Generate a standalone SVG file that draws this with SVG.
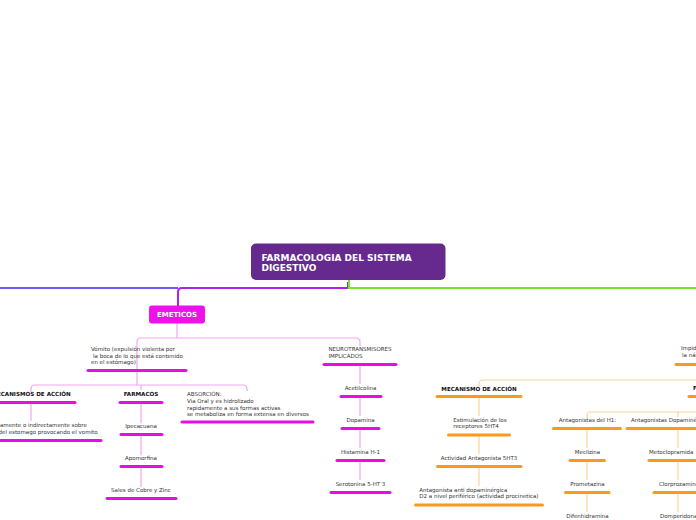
<svg xmlns="http://www.w3.org/2000/svg" width="696" height="520" viewBox="0 0 696 520">
<style>
text{font-family:"DejaVu Sans","Liberation Sans",sans-serif;font-size:5.5px;fill:#333}
.b{font-weight:bold;font-size:5.6px;fill:#111}
.m{text-anchor:middle}
.ul{fill:none;stroke-width:3;stroke-linecap:round}
.um{stroke:#ea0bea}
.uo{stroke:#fb9a18}
.cm{fill:none;stroke:#f4a4f4;stroke-width:1.2}
.co{fill:none;stroke:#fdd49a;stroke-width:1.2}
</style>
<rect width="696" height="520" fill="#ffffff"/>
<g id="connectors">
<path d="M178,288 H0" fill="none" stroke="#6a58f2" stroke-width="2"/>
<path d="M348,282 V288 H182 Q178,288 178,292 V306" fill="none" stroke="#ae22ee" stroke-width="2"/>
<path d="M349,280 V288 H696" fill="none" stroke="#74e826" stroke-width="2"/>
<path class="cm" d="M177,323 V338"/>
<path class="cm" d="M137,370 V342 Q137,338 141,338 H356 Q360,338 360,342 V346"/>
<path class="cm" d="M137,371 V385"/>
<path class="cm" d="M31,392 V389 Q31,385 35,385 H243 Q247,385 247,389 V391"/>
<path class="cm" d="M141,385 V390"/>
<path class="cm" d="M31,402 V421"/>
<path class="cm" d="M141,402 V423 M141,434 V455 M141,466 V487"/>
<path class="cm" d="M360,364 V384 M360,396 V416 M360,428 V448 M360,460 V480"/>
<path class="co" d="M696,380 H483 Q479,380 479,384 V386"/>
<path class="co" d="M479,396 V416 M479,434 V454 M479,466 V486"/>
<path class="co" d="M587,418 V416 Q587,412 591,412 H696 M678,412 V417"/>
<path class="co" d="M587,428 V448 M587,460 V480 M587,492 V512"/>
<path class="co" d="M678,428 V448 M678,460 V480 M678,492 V512"/>
</g>
<g id="root">
<rect x="251" y="243.5" width="194.5" height="36.5" rx="5" fill="#662a8e"/>
<text x="261.5" y="260.7" style="font-weight:bold;font-size:9px;fill:#fff">FARMACOLOGIA DEL SISTEMA</text>
<text x="261.5" y="271" style="font-weight:bold;font-size:9px;fill:#fff">DIGESTIVO</text>
</g>
<g id="emeticos">
<rect x="149" y="305.5" width="56" height="18" rx="3" fill="#ee11ee"/>
<text x="177" y="316.8" class="m" style="font-weight:bold;font-size:7px;fill:#fff">EMETICOS</text>
</g>
<g id="vomito">
<text x="91" y="351">Vómito (expulsión violenta por</text>
<text x="93" y="357.5">la boca de lo que está contenido</text>
<text x="91" y="364">en el estómago)</text>
<path class="ul um" d="M88,370.5 H186"/>
</g>
<g id="mecanismos-emeticos">
<text x="31" y="396" class="b m">MECANISMOS DE ACCIÓN</text>
<path class="ul um" d="M0,402.5 H75"/>
</g>
<g id="mecanismo-texto">
<text x="0" y="427">amente o indirectamente sobre</text>
<text x="-1.5" y="434">del estomago provocando el vomito</text>
<path class="ul um" d="M0,440.5 H101"/>
</g>
<g id="farmacos-emeticos">
<text x="141" y="396" class="b m">FARMACOS</text>
<path class="ul um" d="M120,402.5 H162"/>
</g>
<g id="ipecacuana">
<text x="141" y="428.3" class="m">Ipecacuana</text>
<path class="ul um" d="M121,434.5 H162"/>
</g>
<g id="apomorfina">
<text x="141" y="460.3" class="m">Apomorfina</text>
<path class="ul um" d="M121,466.5 H162"/>
</g>
<g id="sales">
<text x="141" y="492.3" class="m">Sales de Cobre y Zinc</text>
<path class="ul um" d="M107,498.5 H176"/>
</g>
<g id="absorcion">
<text x="187" y="396">ABSORCIÓN:</text>
<text x="187" y="403">Via Oral y es hidrolizado</text>
<text x="187" y="409.5">rapidamente a sus formas activas</text>
<text x="187" y="416">se metaboliza en forma extensa en diversos</text>
<path class="ul um" d="M182,422 H313"/>
</g>
<g id="neurotransmisores">
<text x="328.5" y="351">NEUROTRANSMISORES</text>
<text x="328.5" y="358">IMPLICADOS</text>
<path class="ul um" d="M324,364.5 H396"/>
</g>
<g id="acetilcolina">
<text x="360.5" y="390.3" class="m">Acetilcolina</text>
<path class="ul um" d="M341,396.5 H381"/>
</g>
<g id="dopamina">
<text x="360.5" y="422" class="m">Dopamina</text>
<path class="ul um" d="M342,428.5 H379"/>
</g>
<g id="histamina">
<text x="360.5" y="454" class="m">Histamina H-1</text>
<path class="ul um" d="M337,460.5 H384"/>
</g>
<g id="serotonina">
<text x="360.5" y="486" class="m">Serotonina 5-HT 3</text>
<path class="ul um" d="M331,492.5 H390"/>
</g>
<g id="impide">
<text x="681" y="350">Impide</text>
<text x="682" y="357">la náusea</text>
<path class="ul uo" d="M676,364.5 H700"/>
</g>
<g id="mecanismo-antiemeticos">
<text x="479" y="390.7" class="b m">MECANISMO DE ACCIÓN</text>
<path class="ul uo" d="M437,396.5 H521"/>
</g>
<g id="estimulacion">
<text x="453.3" y="421.7">Estimulación de los</text>
<text x="453.3" y="427.9">receptores 5HT4</text>
<path class="ul uo" d="M448.5,435 H509.5"/>
</g>
<g id="actividad">
<text x="479" y="460" class="m">Actividad Antagonista 5HT3</text>
<path class="ul uo" d="M437.5,466.5 H521"/>
</g>
<g id="antagonista-d2">
<text x="419.3" y="491.7">Antagonista anti dopaminérgica</text>
<text x="419.3" y="498.3">D2 a nivel periférico (actividad procinetica)</text>
<path class="ul uo" d="M415.5,505 H542.5"/>
</g>
<g id="farmacos-antiemeticos">
<text x="693" y="389.5" class="b">FARMACOS</text>
<path class="ul uo" d="M689,396.5 H700"/>
</g>
<g id="antagonistas-h1">
<text x="587.5" y="422" class="m">Antagonistas del H1:</text>
<path class="ul uo" d="M553.5,428.5 H620.5"/>
</g>
<g id="meclizina">
<text x="587.5" y="454" class="m">Meclizina</text>
<path class="ul uo" d="M570,460.5 H604.5"/>
</g>
<g id="prometazina">
<text x="587.5" y="486" class="m">Prometazina</text>
<path class="ul uo" d="M565.5,492.5 H609"/>
</g>
<g id="difenhidramina">
<text x="587.5" y="518" class="m">Difenhidramina</text>
</g>
<g id="antagonistas-dopaminergicos">
<text x="631" y="422">Antagonistas Dopaminérgicos</text>
<path class="ul uo" d="M627,428.5 H700"/>
</g>
<g id="metoclopramida">
<text x="649" y="454">Metoclopramida</text>
<path class="ul uo" d="M649,460.5 H700"/>
</g>
<g id="clorprozamina">
<text x="659" y="486">Clorprozamina</text>
<path class="ul uo" d="M654,492.5 H700"/>
</g>
<g id="domperidona">
<text x="660" y="518">Domperidona</text>
</g>
</svg>
